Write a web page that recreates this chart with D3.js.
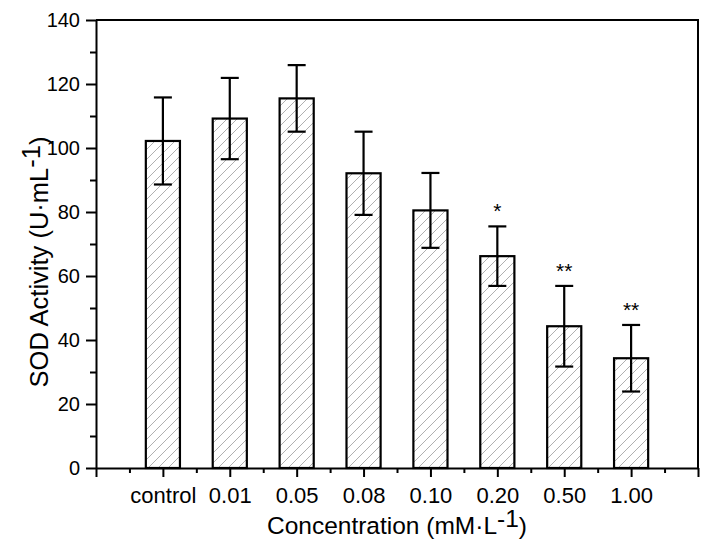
<!DOCTYPE html>
<html>
<head>
<meta charset="utf-8">
<script src="https://cdn.jsdelivr.net/npm/d3@7"></script>
<style>
  body { margin: 0; background: #fff; }
  text { font-family: "Liberation Sans", Arial, sans-serif; fill: #000; }
</style>
</head>
<body>
<svg id="chart"></svg>
<script>
// data
const categories = ['control', '0.01', '0.05', '0.08', '0.10', '0.20', '0.50', '1.00'];
const meanValues = [102.2, 109.2, 115.5, 92.1, 80.5, 66.2, 44.3, 34.3];
const errValues = [13.6, 12.7, 10.4, 13.0, 11.7, 9.3, 12.6, 10.4];
const sigMarks = ['', '', '', '', '', '*', '**', '**'];
const yTicks = [0, 20, 40, 60, 80, 100, 120, 140];

const width = 708, height = 546;
const margin = {top: 20, right: 10, bottom: 78, left: 96};
const innerW = width - margin.left - margin.right;
const innerH = height - margin.top - margin.bottom;

const svg = d3.select('#chart')
    .attr('width', width)
    .attr('height', height);

// hatch pattern for the bars
const defs = svg.append('defs');
defs.append('pattern')
    .attr('id', 'hatch')
    .attr('patternUnits', 'userSpaceOnUse')
    .attr('width', 10)
    .attr('height', 10)
  .append('path')
    .attr('d', 'M-2,2 l4,-4 M0,10 l10,-10 M8,12 l4,-4')
    .attr('stroke', '#9c9c9c')
    .attr('stroke-width', 0.8);

const chart = svg.append('g')
    .attr('transform', `translate(${margin.left},${margin.top})`);

// categories sit at 1..8, axis runs 0..9
const xScale = d3.scaleLinear().domain([0, categories.length + 1]).range([0, innerW]);
const yScale = d3.scaleLinear().domain([0, 140]).range([innerH, 0]);
const step = xScale(1) - xScale(0);
const barW = step * 0.51;

// frame top and right
chart.append('path')
    .attr('d', `M0,${yScale(140)}H${innerW}V${innerH}`)
    .attr('fill', 'none')
    .attr('stroke', '#000')
    .attr('stroke-width', 2);

// bars
chart.selectAll('.bar')
    .data(meanValues)
  .join('rect')
    .attr('class', 'bar')
    .attr('x', (d, i) => xScale(i + 1) - barW / 2)
    .attr('y', d => yScale(d))
    .attr('width', barW)
    .attr('height', d => innerH - yScale(d))
    .attr('fill', 'url(#hatch)')
    .attr('stroke', '#000')
    .attr('stroke-width', 2.2);

// error bars
const capW = 18;
const err = chart.selectAll('.err')
    .data(meanValues)
  .join('g')
    .attr('class', 'err')
    .attr('stroke', '#000')
    .attr('stroke-width', 2.2);
err.append('line')
    .attr('x1', (d, i) => xScale(i + 1)).attr('x2', (d, i) => xScale(i + 1))
    .attr('y1', (d, i) => yScale(d + errValues[i]))
    .attr('y2', (d, i) => yScale(d - errValues[i]));
err.append('line')
    .attr('x1', (d, i) => xScale(i + 1) - capW / 2).attr('x2', (d, i) => xScale(i + 1) + capW / 2)
    .attr('y1', (d, i) => yScale(d + errValues[i]))
    .attr('y2', (d, i) => yScale(d + errValues[i]));
err.append('line')
    .attr('x1', (d, i) => xScale(i + 1) - capW / 2).attr('x2', (d, i) => xScale(i + 1) + capW / 2)
    .attr('y1', (d, i) => yScale(d - errValues[i]))
    .attr('y2', (d, i) => yScale(d - errValues[i]));

// significance stars
chart.selectAll('.sig')
    .data(meanValues)
  .join('text')
    .attr('class', 'sig')
    .attr('x', (d, i) => xScale(i + 1))
    .attr('y', (d, i) => yScale(d + errValues[i]) - 8)
    .attr('text-anchor', 'middle')
    .style('font-size', '21px')
    .text((d, i) => sigMarks[i]);

// y axis
const yAxis = d3.axisLeft(yScale)
    .tickValues(yTicks)
    .tickSize(10)
    .tickPadding(6)
    .tickSizeOuter(0);
const yAxisG = chart.append('g').call(yAxis);
yAxisG.selectAll('text').style('font-size', '20px');
yAxisG.selectAll('line, path').attr('stroke-width', 2);
const yMinor = d3.axisLeft(yScale)
    .tickValues(yTicks.slice(0, -1).map(t => t + 10))
    .tickSize(6)
    .tickFormat('')
    .tickSizeOuter(0);
chart.append('g').call(yMinor)
    .call(g => g.select('.domain').remove())
    .selectAll('line').attr('stroke-width', 2);

// x axis
const xAxis = d3.axisBottom(xScale)
    .tickValues(d3.range(0, categories.length + 2))
    .tickSize(9)
    .tickPadding(10)
    .tickFormat(i => categories[i - 1] || '')
    .tickSizeOuter(0);
const xAxisG = chart.append('g')
    .attr('transform', `translate(0,${innerH})`)
    .call(xAxis);
xAxisG.selectAll('text').style('font-size', '22px');
xAxisG.selectAll('line, path').attr('stroke-width', 2);
const xMinor = d3.axisBottom(xScale)
    .tickValues(d3.range(0, categories.length + 1).map(t => t + 0.5))
    .tickSize(5)
    .tickFormat('')
    .tickSizeOuter(0);
chart.append('g')
    .attr('transform', `translate(0,${innerH})`)
    .call(xMinor)
    .call(g => g.select('.domain').remove())
    .selectAll('line').attr('stroke-width', 2);

// axis titles (superscript at full size, raised)
const xTitle = svg.append('text')
    .attr('x', 397)
    .attr('y', 534)
    .attr('text-anchor', 'middle')
    .style('font-size', '24.5px');
xTitle.append('tspan').text('Concentration (mM·L');
xTitle.append('tspan').attr('dy', -7).text('-1');
xTitle.append('tspan').attr('dy', 7).text(')');

const yTitle = svg.append('text')
    .attr('transform', 'translate(48,262) rotate(-90)')
    .attr('text-anchor', 'middle')
    .style('font-size', '25.5px');
yTitle.append('tspan').text('SOD Activity (U·mL');
yTitle.append('tspan').attr('dy', -8).text('-1');
yTitle.append('tspan').attr('dy', 8).text(')');
</script>
</body>
</html>
